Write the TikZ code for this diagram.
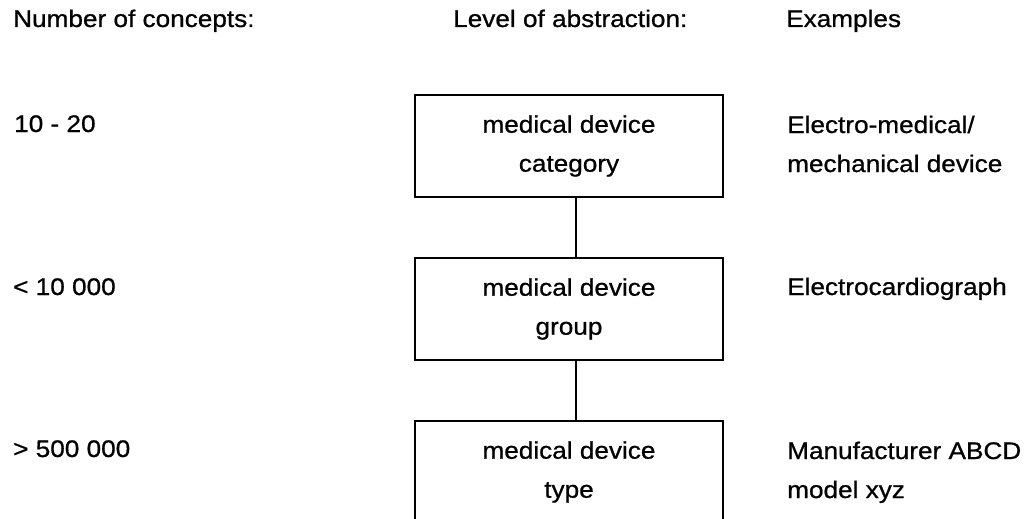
\documentclass[tikz,border=0pt]{standalone}
\usepackage{fontspec}
\setmainfont{Liberation Sans}[FakeStretch=1.09,FakeBold=0.8]
\begin{document}
\begin{tikzpicture}[x=1pt,y=-1pt,
  txt/.style={font=\fontsize{24}{39}\selectfont, inner sep=0pt, anchor=base west, align=left},
  level/.style={draw, line width=2.6pt, minimum width=308pt, minimum height=102pt,
    inner sep=0pt, font=\fontsize{24}{39}\selectfont, align=center},
  link/.style={line width=2.4pt}]
  \useasboundingbox (0,0) rectangle (1025,519);
  \clip (0,0) rectangle (1025,519);

  % column headings
  \node[txt] (hnum) at (13,27) {Number of concepts:};
  \node[txt] (hlev) at (453,27) {Level of abstraction:};
  \node[txt] (hex)  at (786,27) {Examples};

  % abstraction levels
  \node[level] (b1) at (569,146) {medical device\\category};
  \node[level] (b2) at (569,309) {medical device\\group};
  \node[level] (b3) at (569,472) {medical device\\type};

  \draw[link] ([xshift=7pt]b1.south) -- ([xshift=7pt]b2.north);
  \draw[link] ([xshift=7pt]b2.south) -- ([xshift=7pt]b3.north);

  % number of concepts per level
  \node[txt] (n1) at (14,132) {10 - 20};
  \node[txt] (n2) at (13,295) {< 10 000};
  \node[txt] (n3) at (13,457) {> 500 000};

  % examples per level (two-line nodes sit on their last baseline)
  \node[txt] (e1) at (787,172) {Electro-medical/\\mechanical device};
  \node[txt] (e2) at (787,295) {Electrocardiograph};
  \node[txt] (e3) at (787,498) {Manufacturer ABCD\\model xyz};
\end{tikzpicture}
\end{document}
